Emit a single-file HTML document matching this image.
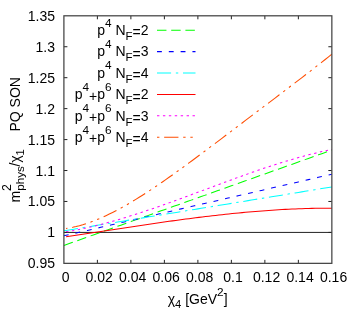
<!DOCTYPE html>
<html><head><meta charset="utf-8">
<style>
html,body{margin:0;padding:0;background:#fff;}
body{width:357px;height:323px;overflow:hidden;}
svg{display:block;will-change:transform;}
text{font-family:"Liberation Sans",sans-serif;font-size:14px;fill:#000;}
</style></head><body>
<svg width="357" height="323" viewBox="0 0 357 323">
<rect width="357" height="323" fill="#fff"/>
<g fill="none" stroke-width="1.05" stroke-linecap="butt">
<path d="M63.9,232.41 H331.85" stroke="#222" stroke-width="1"/>
<path d="M63.90,245.40 L67.25,244.21 L70.60,243.02 L73.95,241.83 L77.30,240.64 L80.65,239.45 L84.00,238.25 L87.35,237.06 L90.70,235.87 L94.04,234.68 L97.39,233.49 L100.74,232.30 L104.09,231.11 L107.44,229.92 L110.79,228.72 L114.14,227.53 L117.49,226.34 L120.84,225.15 L124.19,223.96 L127.54,222.77 L130.89,221.58 L134.24,220.38 L137.59,219.19 L140.94,218.00 L144.28,216.81 L147.63,215.62 L150.98,214.43 L154.33,213.24 L157.68,212.05 L161.03,210.85 L164.38,209.66 L167.73,208.47 L171.08,207.28 L174.43,206.09 L177.78,204.90 L181.13,203.71 L184.48,202.51 L187.83,201.32 L191.18,200.13 L194.53,198.94 L197.88,197.75 L201.22,196.56 L204.57,195.37 L207.92,194.18 L211.27,192.98 L214.62,191.79 L217.97,190.60 L221.32,189.41 L224.67,188.22 L228.02,187.03 L231.37,185.84 L234.72,184.64 L238.07,183.45 L241.42,182.26 L244.77,181.07 L248.12,179.88 L251.47,178.69 L254.81,177.50 L258.16,176.31 L261.51,175.11 L264.86,173.92 L268.21,172.73 L271.56,171.54 L274.91,170.35 L278.26,169.16 L281.61,167.97 L284.96,166.77 L288.31,165.58 L291.66,164.39 L295.01,163.20 L298.36,162.01 L301.71,160.82 L305.06,159.63 L308.40,158.44 L311.75,157.24 L315.10,156.05 L318.45,154.86 L321.80,153.67 L325.15,152.48 L328.50,151.29 L331.85,150.10" stroke="#00ff00" stroke-dasharray="9.45,4.75"/>
<path d="M63.90,235.81 L67.25,235.04 L70.60,234.27 L73.95,233.50 L77.30,232.73 L80.65,231.96 L84.00,231.19 L87.35,230.42 L90.70,229.65 L94.04,228.88 L97.39,228.11 L100.74,227.34 L104.09,226.57 L107.44,225.80 L110.79,225.03 L114.14,224.26 L117.49,223.49 L120.84,222.72 L124.19,221.95 L127.54,221.19 L130.89,220.42 L134.24,219.65 L137.59,218.88 L140.94,218.11 L144.28,217.34 L147.63,216.57 L150.98,215.80 L154.33,215.03 L157.68,214.26 L161.03,213.49 L164.38,212.72 L167.73,211.95 L171.08,211.18 L174.43,210.41 L177.78,209.64 L181.13,208.87 L184.48,208.10 L187.83,207.33 L191.18,206.56 L194.53,205.79 L197.88,205.02 L201.22,204.25 L204.57,203.48 L207.92,202.71 L211.27,201.94 L214.62,201.17 L217.97,200.40 L221.32,199.63 L224.67,198.86 L228.02,198.09 L231.37,197.32 L234.72,196.55 L238.07,195.78 L241.42,195.01 L244.77,194.24 L248.12,193.48 L251.47,192.71 L254.81,191.94 L258.16,191.17 L261.51,190.40 L264.86,189.63 L268.21,188.86 L271.56,188.09 L274.91,187.32 L278.26,186.55 L281.61,185.78 L284.96,185.01 L288.31,184.24 L291.66,183.47 L295.01,182.70 L298.36,181.93 L301.71,181.16 L305.06,180.39 L308.40,179.62 L311.75,178.85 L315.10,178.08 L318.45,177.31 L321.80,176.54 L325.15,175.77 L328.50,175.00 L331.85,174.23" stroke="#0000ff" stroke-dasharray="4.85,6.96"/>
<path d="M63.90,230.80 L67.25,230.25 L70.60,229.70 L73.95,229.15 L77.30,228.60 L80.65,228.05 L84.00,227.51 L87.35,226.96 L90.70,226.41 L94.04,225.86 L97.39,225.31 L100.74,224.76 L104.09,224.22 L107.44,223.67 L110.79,223.12 L114.14,222.57 L117.49,222.02 L120.84,221.47 L124.19,220.92 L127.54,220.38 L130.89,219.83 L134.24,219.28 L137.59,218.73 L140.94,218.18 L144.28,217.63 L147.63,217.09 L150.98,216.54 L154.33,215.99 L157.68,215.44 L161.03,214.89 L164.38,214.34 L167.73,213.79 L171.08,213.25 L174.43,212.70 L177.78,212.15 L181.13,211.60 L184.48,211.05 L187.83,210.50 L191.18,209.96 L194.53,209.41 L197.88,208.86 L201.22,208.31 L204.57,207.76 L207.92,207.21 L211.27,206.66 L214.62,206.12 L217.97,205.57 L221.32,205.02 L224.67,204.47 L228.02,203.92 L231.37,203.37 L234.72,202.82 L238.07,202.28 L241.42,201.73 L244.77,201.18 L248.12,200.63 L251.47,200.08 L254.81,199.53 L258.16,198.99 L261.51,198.44 L264.86,197.89 L268.21,197.34 L271.56,196.79 L274.91,196.24 L278.26,195.69 L281.61,195.15 L284.96,194.60 L288.31,194.05 L291.66,193.50 L295.01,192.95 L298.36,192.40 L301.71,191.86 L305.06,191.31 L308.40,190.76 L311.75,190.21 L315.10,189.66 L318.45,189.11 L321.80,188.56 L325.15,188.02 L328.50,187.47 L331.85,186.92" stroke="#00ffff" stroke-dasharray="14.1,4.75,2.4,4.72"/>
<path d="M66.08,236.71 L69.40,236.21 L72.72,235.72 L76.04,235.22 L79.37,234.72 L82.69,234.21 L86.01,233.71 L89.33,233.20 L92.65,232.70 L95.98,232.19 L99.30,231.69 L102.62,231.18 L105.94,230.67 L109.27,230.17 L112.59,229.66 L115.91,229.16 L119.23,228.65 L122.55,228.15 L125.88,227.65 L129.20,227.15 L132.52,226.65 L135.84,226.15 L139.16,225.66 L142.49,225.17 L145.81,224.68 L149.13,224.19 L152.45,223.71 L155.78,223.23 L159.10,222.75 L162.42,222.28 L165.74,221.81 L169.06,221.35 L172.39,220.89 L175.71,220.43 L179.03,219.98 L182.35,219.53 L185.67,219.09 L189.00,218.66 L192.32,218.23 L195.64,217.81 L198.96,217.39 L202.29,216.98 L205.61,216.57 L208.93,216.18 L212.25,215.79 L215.57,215.40 L218.90,215.03 L222.22,214.66 L225.54,214.30 L228.86,213.94 L232.19,213.60 L235.51,213.26 L238.83,212.94 L242.15,212.62 L245.47,212.31 L248.80,212.01 L252.12,211.72 L255.44,211.44 L258.76,211.17 L262.08,210.91 L265.41,210.66 L268.73,210.42 L272.05,210.19 L275.37,209.97 L278.70,209.77 L282.02,209.57 L285.34,209.39 L288.66,209.22 L291.98,209.06 L295.31,208.91 L298.63,208.78 L301.95,208.66 L305.27,208.55 L308.59,208.45 L311.92,208.37 L315.24,208.30 L318.56,208.25 L321.88,208.21 L325.21,208.18 L328.53,208.17 L331.85,208.18" stroke="#ff0000"/>
<path d="M66.08,231.87 L69.40,231.31 L72.72,230.71 L76.04,230.08 L79.37,229.42 L82.69,228.73 L86.01,228.01 L89.33,227.26 L92.65,226.48 L95.98,225.68 L99.30,224.85 L102.62,224.00 L105.94,223.12 L109.27,222.22 L112.59,221.30 L115.91,220.35 L119.23,219.38 L122.55,218.40 L125.88,217.39 L129.20,216.36 L132.52,215.32 L135.84,214.26 L139.16,213.18 L142.49,212.09 L145.81,210.98 L149.13,209.86 L152.45,208.72 L155.78,207.58 L159.10,206.42 L162.42,205.24 L165.74,204.06 L169.06,202.87 L172.39,201.67 L175.71,200.47 L179.03,199.25 L182.35,198.03 L185.67,196.81 L189.00,195.58 L192.32,194.35 L195.64,193.11 L198.96,191.87 L202.29,190.63 L205.61,189.39 L208.93,188.15 L212.25,186.91 L215.57,185.67 L218.90,184.43 L222.22,183.20 L225.54,181.97 L228.86,180.74 L232.19,179.52 L235.51,178.31 L238.83,177.11 L242.15,175.91 L245.47,174.72 L248.80,173.54 L252.12,172.37 L255.44,171.21 L258.76,170.07 L262.08,168.93 L265.41,167.81 L268.73,166.71 L272.05,165.62 L275.37,164.54 L278.70,163.48 L282.02,162.44 L285.34,161.42 L288.66,160.41 L291.98,159.43 L295.31,158.46 L298.63,157.52 L301.95,156.60 L305.27,155.70 L308.59,154.83 L311.92,153.98 L315.24,153.16 L318.56,152.36 L321.88,151.59 L325.21,150.84 L328.53,150.13 L331.85,149.44" stroke="#ff00ff" stroke-dasharray="2.4,3.52"/>
<path d="M66.08,228.56 L69.40,227.99 L72.72,227.32 L76.04,226.55 L79.37,225.68 L82.69,224.72 L86.01,223.67 L89.33,222.53 L92.65,221.31 L95.98,220.01 L99.30,218.64 L102.62,217.19 L105.94,215.68 L109.27,214.09 L112.59,212.45 L115.91,210.74 L119.23,208.97 L122.55,207.15 L125.88,205.28 L129.20,203.36 L132.52,201.39 L135.84,199.38 L139.16,197.32 L142.49,195.23 L145.81,193.09 L149.13,190.93 L152.45,188.73 L155.78,186.49 L159.10,184.24 L162.42,181.95 L165.74,179.64 L169.06,177.30 L172.39,174.95 L175.71,172.57 L179.03,170.18 L182.35,167.77 L185.67,165.35 L189.00,162.91 L192.32,160.46 L195.64,158.00 L198.96,155.53 L202.29,153.05 L205.61,150.56 L208.93,148.07 L212.25,145.57 L215.57,143.07 L218.90,140.56 L222.22,138.05 L225.54,135.54 L228.86,133.03 L232.19,130.51 L235.51,127.99 L238.83,125.48 L242.15,122.96 L245.47,120.44 L248.80,117.93 L252.12,115.41 L255.44,112.89 L258.76,110.38 L262.08,107.86 L265.41,105.35 L268.73,102.83 L272.05,100.31 L275.37,97.80 L278.70,95.28 L282.02,92.76 L285.34,90.23 L288.66,87.71 L291.98,85.18 L295.31,82.65 L298.63,80.11 L301.95,77.56 L305.27,75.01 L308.59,72.44 L311.92,69.87 L315.24,67.29 L318.56,64.70 L321.88,62.09 L325.21,59.47 L328.53,56.83 L331.85,54.17" stroke="#ff4d00" stroke-dasharray="2.4,4.75,14.3,4.75,2.4,4.75" stroke-dashoffset="1.0"/>
</g>
<g stroke="#222" stroke-width="1" fill="none">
<path d="M97.39,263.35 v-3.5 M97.39,15.8 v3.5"/>
<path d="M63.9,232.41 h3.5 M331.85,232.41 h-3.5"/>
<path d="M130.89,263.35 v-3.5 M130.89,15.8 v3.5"/>
<path d="M63.9,201.46 h3.5 M331.85,201.46 h-3.5"/>
<path d="M164.38,263.35 v-3.5 M164.38,15.8 v3.5"/>
<path d="M63.9,170.52 h3.5 M331.85,170.52 h-3.5"/>
<path d="M197.88,263.35 v-3.5 M197.88,15.8 v3.5"/>
<path d="M63.9,139.58 h3.5 M331.85,139.58 h-3.5"/>
<path d="M231.37,263.35 v-3.5 M231.37,15.8 v3.5"/>
<path d="M63.9,108.63 h3.5 M331.85,108.63 h-3.5"/>
<path d="M264.86,263.35 v-3.5 M264.86,15.8 v3.5"/>
<path d="M63.9,77.69 h3.5 M331.85,77.69 h-3.5"/>
<path d="M298.36,263.35 v-3.5 M298.36,15.8 v3.5"/>
<path d="M63.9,46.74 h3.5 M331.85,46.74 h-3.5"/>
</g>
<rect x="63.9" y="15.8" width="267.95000000000005" height="247.55" fill="none" stroke="#444" stroke-width="1.25"/>
<text x="65.60" y="282.3" text-anchor="middle">0</text>
<text x="99.09" y="282.3" text-anchor="middle">0.02</text>
<text x="132.59" y="282.3" text-anchor="middle">0.04</text>
<text x="166.08" y="282.3" text-anchor="middle">0.06</text>
<text x="199.58" y="282.3" text-anchor="middle">0.08</text>
<text x="233.07" y="282.3" text-anchor="middle">0.1</text>
<text x="266.56" y="282.3" text-anchor="middle">0.12</text>
<text x="300.06" y="282.3" text-anchor="middle">0.14</text>
<text x="333.55" y="282.3" text-anchor="middle">0.16</text>
<text x="55" y="268.35" text-anchor="end">0.95</text>
<text x="55" y="237.41" text-anchor="end">1</text>
<text x="55" y="206.46" text-anchor="end">1.05</text>
<text x="55" y="175.52" text-anchor="end">1.1</text>
<text x="55" y="144.58" text-anchor="end">1.15</text>
<text x="55" y="113.63" text-anchor="end">1.2</text>
<text x="55" y="82.69" text-anchor="end">1.25</text>
<text x="55" y="51.74" text-anchor="end">1.3</text>
<text x="55" y="20.80" text-anchor="end">1.35</text>
<text x="148.6" y="35.0" text-anchor="end">p<tspan dy="-8.5" font-size="11.8">4</tspan><tspan dy="8.5"> N</tspan><tspan dy="5" font-size="11.5">F</tspan><tspan dy="-2.6">=</tspan><tspan dy="-2.4">2</tspan></text>
<path d="M157,30.20 H195.5" stroke="#00ff00" stroke-width="1.05" fill="none" stroke-dasharray="9.45,4.75"/>
<text x="148.6" y="56.4" text-anchor="end">p<tspan dy="-8.5" font-size="11.8">4</tspan><tspan dy="8.5"> N</tspan><tspan dy="5" font-size="11.5">F</tspan><tspan dy="-2.6">=</tspan><tspan dy="-2.4">3</tspan></text>
<path d="M157,51.60 H195.5" stroke="#0000ff" stroke-width="1.05" fill="none" stroke-dasharray="4.85,6.96"/>
<text x="148.6" y="77.8" text-anchor="end">p<tspan dy="-8.5" font-size="11.8">4</tspan><tspan dy="8.5"> N</tspan><tspan dy="5" font-size="11.5">F</tspan><tspan dy="-2.6">=</tspan><tspan dy="-2.4">4</tspan></text>
<path d="M157,73.00 H195.5" stroke="#00ffff" stroke-width="1.05" fill="none" stroke-dasharray="14.1,4.75,2.4,4.72"/>
<text x="148.6" y="99.19999999999999" text-anchor="end">p<tspan dy="-8.5" font-size="11.8">4</tspan><tspan dy="9.9">+</tspan><tspan dy="-1.4">p</tspan><tspan dy="-8.5" font-size="11.8">6</tspan><tspan dy="8.5"> N</tspan><tspan dy="5" font-size="11.5">F</tspan><tspan dy="-2.6">=</tspan><tspan dy="-2.4">2</tspan></text>
<path d="M157,94.40 H195.5" stroke="#ff0000" stroke-width="1.05" fill="none"/>
<text x="148.6" y="120.6" text-anchor="end">p<tspan dy="-8.5" font-size="11.8">4</tspan><tspan dy="9.9">+</tspan><tspan dy="-1.4">p</tspan><tspan dy="-8.5" font-size="11.8">6</tspan><tspan dy="8.5"> N</tspan><tspan dy="5" font-size="11.5">F</tspan><tspan dy="-2.6">=</tspan><tspan dy="-2.4">3</tspan></text>
<path d="M157,115.80 H195.5" stroke="#ff00ff" stroke-width="1.05" fill="none" stroke-dasharray="2.4,3.52"/>
<text x="148.6" y="142.0" text-anchor="end">p<tspan dy="-8.5" font-size="11.8">4</tspan><tspan dy="9.9">+</tspan><tspan dy="-1.4">p</tspan><tspan dy="-8.5" font-size="11.8">6</tspan><tspan dy="8.5"> N</tspan><tspan dy="5" font-size="11.5">F</tspan><tspan dy="-2.6">=</tspan><tspan dy="-2.4">4</tspan></text>
<path d="M157,137.20 H195.5" stroke="#ff4d00" stroke-width="1.05" fill="none" stroke-dasharray="2.4,4.75,14.3,4.75,2.4,4.75"/>
<text x="197.6" y="303.6" text-anchor="middle">χ<tspan dy="4.5" font-size="11.2">4</tspan><tspan dy="-4.5"> [GeV</tspan><tspan dy="-7.2" font-size="11.8">2</tspan><tspan dy="7.2">]</tspan></text>
<g transform="translate(19.5,0) rotate(-90)">
<text x="-131.5" y="0">PQ SON</text>
<text x="-202.5" y="0">m</text>
<text x="-190.9" y="-8.7" style="font-size:12.3px">2</text>
<text x="-190.7" y="4" style="font-size:11.6px">phys</text>
<text x="-166.6" y="0">/χ</text>
<text x="-155.5" y="4" style="font-size:11.2px">1</text>
</g>
</svg>
</body></html>
